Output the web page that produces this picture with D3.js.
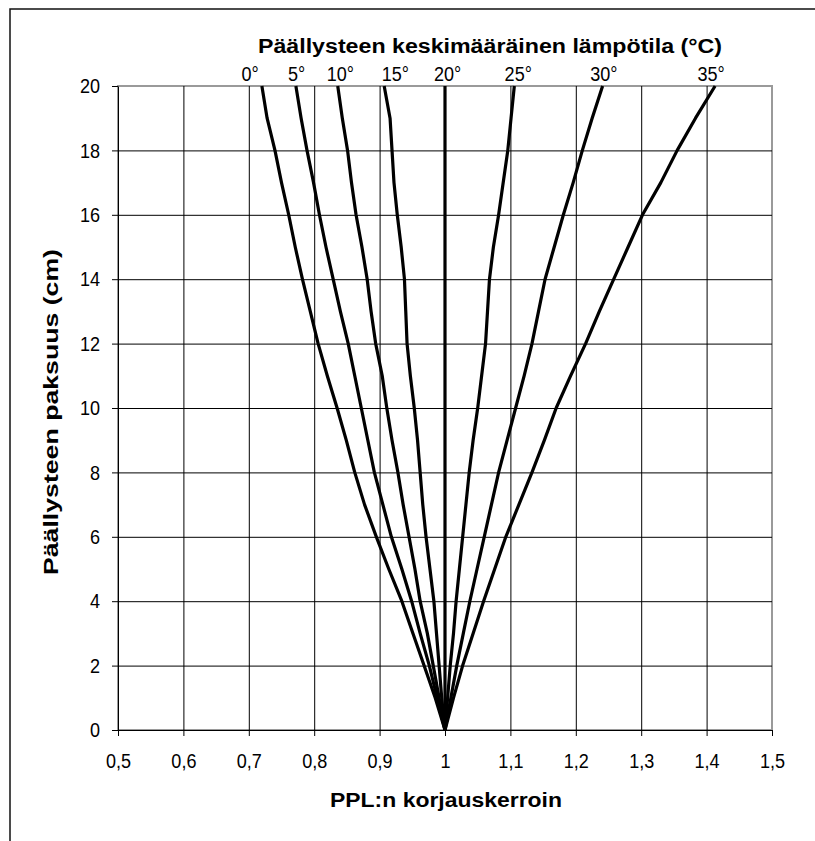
<!DOCTYPE html>
<html><head><meta charset="utf-8">
<script src="https://cdn.jsdelivr.net/npm/d3@7/dist/d3.min.js"></script>
<style>body{margin:0;background:#fff}svg{display:block}</style>
</head><body>
<svg id="chart" width="815" height="841"></svg>
<script>
// ---- data ----
const depths = [0,1,2,3,4,5,6,7,8,9,10,11,12,13,14,15,16,17,18,19,20];
const tempLabels = ["0°","5°","10°","15°","20°","25°","30°","35°"];
const t0  = [1,0.985,0.968,0.951,0.934,0.914,0.895,0.877,0.862,0.849,0.835,0.820,0.806,0.794,0.782,0.771,0.761,0.750,0.740,0.728,0.720];
const t5  = [1,0.988,0.976,0.962,0.949,0.934,0.918,0.905,0.892,0.882,0.872,0.862,0.852,0.840,0.829,0.818,0.808,0.799,0.789,0.780,0.772];
const t10 = [1,0.991,0.982,0.973,0.962,0.954,0.945,0.936,0.928,0.919,0.911,0.904,0.894,0.887,0.881,0.873,0.864,0.857,0.851,0.843,0.836];
const t15 = [1,0.995,0.991,0.987,0.983,0.977,0.971,0.966,0.962,0.958,0.953,0.947,0.942,0.940,0.938,0.933,0.927,0.922,0.919,0.916,0.907];
const t20 = [1,1,1,1,1,1,1,1,1,1,1,1,1,1,1,1,1,1,1,1,1];
const t25 = [1,1.004,1.008,1.013,1.017,1.022,1.027,1.032,1.037,1.043,1.050,1.056,1.062,1.065,1.068,1.074,1.082,1.089,1.096,1.101,1.106];
const t30 = [1,1.009,1.018,1.028,1.038,1.049,1.060,1.071,1.082,1.095,1.108,1.121,1.133,1.143,1.153,1.167,1.181,1.196,1.210,1.225,1.241];
const t35 = [1,1.013,1.027,1.043,1.059,1.076,1.093,1.113,1.133,1.152,1.170,1.192,1.215,1.236,1.258,1.280,1.302,1.330,1.355,1.383,1.413];
const labelX = [0.702,0.773,0.840,0.924,1.004,1.112,1.243,1.407];
const xTicks = [0.5,0.6,0.7,0.8,0.9,1.0,1.1,1.2,1.3,1.4,1.5];
const xTickLabels = ["0,5","0,6","0,7","0,8","0,9","1","1,1","1,2","1,3","1,4","1,5"];
const yTicks = [0,2,4,6,8,10,12,14,16,18,20];
const yTickLabels = ["0","2","4","6","8","10","12","14","16","18","20"];
const topTitle = "Päällysteen keskimääräinen lämpötila (°C)";
const xTitle = "PPL:n korjauskerroin";
const yTitle = "Päällysteen paksuus (cm)";

const series = [t0,t5,t10,t15,t20,t25,t30,t35];

// ---- layout ----
const L = 118, R = 772, T = 86, B = 730;
const x = d3.scaleLinear().domain([0.5,1.5]).range([L,R]);
const y = d3.scaleLinear().domain([0,20]).range([B,T]);
const SX = 0.86;
const FS = 21;

const svg = d3.select("#chart");
const FONT = "'Liberation Sans', Arial, sans-serif";

// outer frame
svg.append("rect").attr("x",10).attr("y",9).attr("width",900).attr("height",900)
  .attr("fill","none").attr("stroke","#111").attr("stroke-width",1.5);

// plot area frame (gray)
svg.append("rect").attr("x",L).attr("y",T).attr("width",R-L).attr("height",B-T)
  .attr("fill","#fff").attr("stroke","#9a9a9a").attr("stroke-width",2);

// gridlines
const grid = svg.append("g");
grid.append("g").attr("transform",`translate(0,${B})`)
  .call(d3.axisBottom(x).tickValues(xTicks.slice(1,-1)).tickSize(-(B-T)).tickFormat(""))
  .call(g=>g.select(".domain").remove())
  .call(g=>g.selectAll("line").attr("stroke","#000").attr("stroke-width",1));
grid.append("g").attr("transform",`translate(${L},0)`)
  .call(d3.axisLeft(y).tickValues(yTicks.slice(1,-1)).tickSize(-(R-L)).tickFormat(""))
  .call(g=>g.select(".domain").remove())
  .call(g=>g.selectAll("line").attr("stroke","#000").attr("stroke-width",1));

// axes
const xa = svg.append("g").attr("transform",`translate(0,${B})`)
  .call(d3.axisBottom(x).tickValues(xTicks).tickSize(6).tickSizeOuter(0).tickPadding(17)
        .tickFormat((d,i)=>xTickLabels[i]));
const ya = svg.append("g").attr("transform",`translate(${L},0)`)
  .call(d3.axisLeft(y).tickValues(yTicks).tickSize(6).tickSizeOuter(0).tickPadding(12)
        .tickFormat((d,i)=>yTickLabels[i]));
[xa,ya].forEach(a=>{
  a.selectAll("path,line").attr("stroke","#000").attr("stroke-width",1);
  a.selectAll("text").attr("font-family",FONT).attr("font-size",FS).attr("fill","#000")
   .attr("transform",`scale(${SX},1)`);
});
ya.selectAll("text").attr("x",-18/SX);

// curves
const line = d3.line().x(d=>x(d[0])).y(d=>y(d[1]));
svg.append("g").selectAll("path").data(series).join("path")
  .attr("d",s=>line(s.map((v,i)=>[v,depths[i]])))
  .attr("fill","none").attr("stroke","#000").attr("stroke-width",3.2)
  .attr("stroke-linejoin","round");

// temperature labels
svg.append("g").selectAll("text").data(tempLabels).join("text")
  .attr("transform",(d,i)=>`translate(${x(labelX[i])},81) scale(${SX},1)`)
  .attr("text-anchor","middle").attr("font-family",FONT).attr("font-size",FS)
  .text(d=>d);

// titles
svg.append("text").attr("x",258).attr("y",53).attr("font-family",FONT)
  .attr("font-weight","bold").attr("font-size",20)
  .attr("textLength",464).attr("lengthAdjust","spacingAndGlyphs").text(topTitle);
svg.append("text").attr("x",330).attr("y",807).attr("font-family",FONT)
  .attr("font-weight","bold").attr("font-size",20)
  .attr("textLength",232).attr("lengthAdjust","spacingAndGlyphs").text(xTitle);
svg.append("text").attr("transform","translate(58,575) rotate(-90)").attr("font-family",FONT)
  .attr("font-weight","bold").attr("font-size",20)
  .attr("textLength",326).attr("lengthAdjust","spacingAndGlyphs").text(yTitle);
</script>
</body></html>
